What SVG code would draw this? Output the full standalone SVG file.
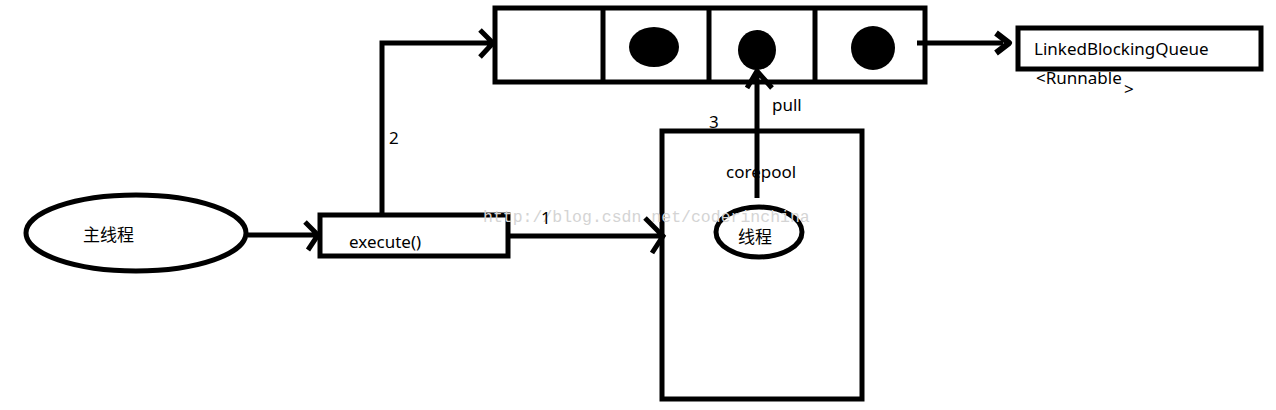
<svg xmlns="http://www.w3.org/2000/svg" width="1276" height="410" viewBox="0 0 1276 410">
<style>
.s{fill:none;stroke:#000;stroke-width:5}
.b{fill:#fff;stroke:#000;stroke-width:5}
.t{font-family:"Noto Sans","Noto Sans CJK SC",sans-serif;font-size:17px;fill:#000}
.w{font-family:"Liberation Mono",monospace;font-size:16.5px;fill:#d4d4d4}
.dot{fill:#000}
</style>
<rect width="1276" height="410" fill="#fff"/>
<g id="queue">
<rect class="b" x="495" y="8" width="430" height="74"/>
<line class="s" x1="603" y1="8" x2="603" y2="82"/>
<line class="s" x1="709" y1="8" x2="709" y2="82"/>
<line class="s" x1="815" y1="8" x2="815" y2="82"/>
<ellipse class="dot" cx="654" cy="47" rx="25" ry="20"/>
<ellipse class="dot" cx="757" cy="50" rx="19" ry="20"/>
<ellipse class="dot" cx="873" cy="48" rx="22" ry="22"/>
</g>
<g id="lbq">
<rect class="b" x="1018" y="28" width="243" height="41"/>
<text class="t" x="1034" y="55">LinkedBlockingQueue</text>
<text class="t" x="1036" y="84">&lt;Runnable</text>
<text class="t" x="1124" y="95">&gt;</text>
</g>
<g id="main">
<ellipse class="b" cx="136" cy="233" rx="110" ry="38"/>
<text class="t" x="83" y="241">主线程</text>
</g>
<g id="execute">
<rect class="b" x="320" y="215" width="188" height="41"/>
<text class="t" x="349" y="248">execute()</text>
</g>
<g id="corepool">
<rect class="b" x="662" y="131" width="200" height="268"/>
<text class="t" x="726" y="178">corepool</text>
</g>
<g id="thread">
<ellipse class="b" cx="759" cy="232" rx="43" ry="25"/>
<text class="t" x="738" y="243">线程</text>
</g>
<text class="w" x="483" y="222">http://blog.csdn.net/coderinchina</text>
<g id="connectors">
<path class="s" d="M248 235H318M305 222L318 235L308 250"/>
<path class="s" d="M382 213V43H493M480 30L493 43L480 57"/>
<path class="s" d="M508 236H663M645 218L663 236L652 253"/>
<path class="s" d="M757 198V70M747 88L757 71L772 88"/>
<path class="s" d="M917 43H1003"/>
<path d="M996 33L1009 43L996 53" fill="none" stroke="#000" stroke-width="6" stroke-linejoin="round"/>
</g>
<g id="labels">
<text class="t" x="389" y="144">2</text>
<text class="t" x="541" y="224">1</text>
<text class="t" x="709" y="128">3</text>
<text class="t" x="772" y="111">pull</text>
</g>
</svg>
